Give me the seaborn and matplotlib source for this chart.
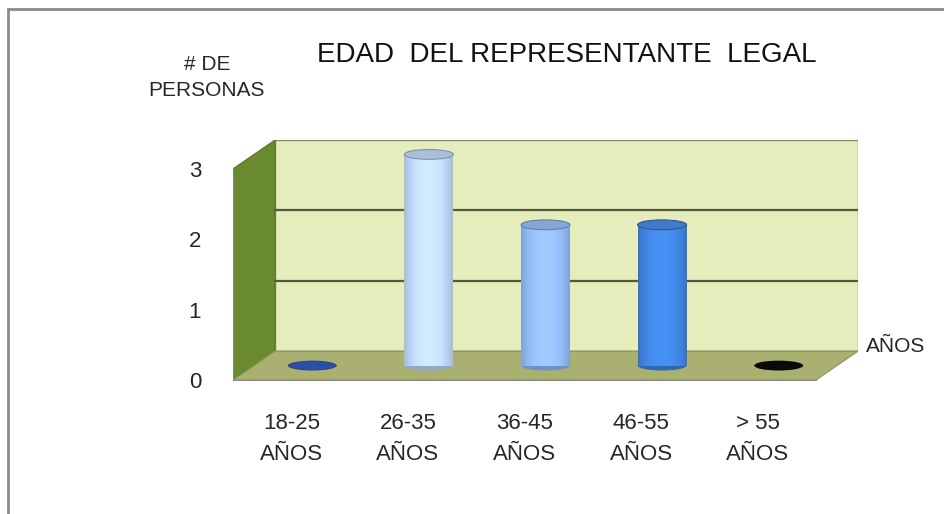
import numpy as np
import pandas as pd
import seaborn as sns
import matplotlib.pyplot as plt
from matplotlib.patches import Polygon, Ellipse, Rectangle
from matplotlib.transforms import Affine2D

# data
categories = ["18-25\nAÑOS", "26-35\nAÑOS", "36-45\nAÑOS", "46-55\nAÑOS", "> 55\nAÑOS"]
personas = [0, 3, 2, 2, 0]
bar_colors = ["#2c4fa6", "#b9d2f2", "#8db5ee", "#3d80dc", "#0a0a0a"]

df = pd.DataFrame({"edad": categories, "personas": personas})

sns.set_style("white")
plt.rcParams['font.family'] = ['Liberation Sans', 'DejaVu Sans']

W, H = 945, 514
fig = plt.figure(figsize=(W / 100, H / 100), dpi=100)

def fx(x):
    return x / W

def fy(y):
    return 1 - y / H

# outer frame
fig.patches.append(Rectangle((fx(8), fy(530)), 1.0, fy(9) - fy(530), transform=fig.transFigure,
                             fill=False, edgecolor="#8a8a8a", linewidth=2))

# 3d depth offset in data units
dx, dy = 0.36, 0.41
ax = fig.add_axes([fx(233), fy(380), fx(858) - fx(233), fy(140) - fy(380)])
ax.set_xlim(-0.5, 4.5 + dx)
ax.set_ylim(0, 3 + dy)
ax.patch.set_alpha(0)

# walls
back = Polygon([(-0.5 + dx, dy), (4.5 + dx, dy), (4.5 + dx, 3 + dy), (-0.5 + dx, 3 + dy)],
               closed=True, facecolor="#e5edbc", edgecolor="#7d8a60", lw=1, zorder=0)
left = Polygon([(-0.5, 0), (-0.5 + dx, dy), (-0.5 + dx, 3 + dy), (-0.5, 3)],
               closed=True, facecolor="#6a8a30", edgecolor="#5a7524", lw=0.8, zorder=0)
floor = Polygon([(-0.5, 0), (4.5, 0), (4.5 + dx, dy), (-0.5 + dx, dy)],
                closed=True, facecolor="#aab170", edgecolor="#8d9160", lw=0.8, zorder=0)
for p in (back, left, floor):
    ax.add_patch(p)
for g in [1, 2]:
    ax.plot([-0.5 + dx, 4.5 + dx], [g + dy, g + dy], color="#4f5b3c", lw=1.6, zorder=1)

# bars (cylinders) drawn by seaborn, then shifted to the middle depth
sns.barplot(data=df, x="edad", y="personas", hue="edad", palette=bar_colors,
            width=0.42, legend=False, ax=ax, zorder=3)
shift = Affine2D().translate(dx / 2, dy / 2) + ax.transData
eh = 0.14
for patch, col in zip(ax.patches[3:], bar_colors):
    patch.set_transform(shift)
    patch.set_edgecolor("none")
    x0, w, h = patch.get_x(), patch.get_width(), patch.get_height()
    rgb = np.array(plt.matplotlib.colors.to_rgb(col))
    dark = np.clip(rgb * 0.8, 0, 1)
    ax.add_patch(Ellipse((x0 + w / 2, 0), w, eh, transform=shift, facecolor=dark,
                         edgecolor="none", zorder=2.9))
    if h > 0:
        t = np.linspace(0, 1, 64)
        shade = 0.78 + 0.32 * np.sin(np.pi * (t * 0.9 + 0.05)) ** 0.6
        img = np.clip(rgb[None, None, :] * shade[None, :, None] + 0.06 * (shade[None, :, None] - 0.78), 0, 1)
        im = ax.imshow(img, extent=[x0, x0 + w, 0, h], transform=shift, aspect="auto",
                       interpolation="bilinear", zorder=3.1)
        im.set_clip_path(patch)
        top = np.clip(rgb * 0.85 + 0.05, 0, 1)
        ax.add_patch(Ellipse((x0 + w / 2, h), w, eh, transform=shift, facecolor=top,
                             edgecolor=np.clip(rgb * 0.7, 0, 1), lw=0.8, zorder=3.2))
    else:
        ax.add_patch(Ellipse((x0 + w / 2, 0), w * 0.95, eh * 0.85, transform=shift,
                             facecolor=col, edgecolor="none", zorder=3.2))

ax.set_xlim(-0.5, 4.5 + dx)
ax.set_ylim(0, 3 + dy)

# axes
for s in ["top", "right"]:
    ax.spines[s].set_visible(False)
ax.spines["left"].set_bounds(0, 3)
ax.spines["bottom"].set_bounds(-0.5, 4.5)
ax.spines["left"].set_color("#8a8a8a")
ax.spines["bottom"].set_color("#8a8a8a")
ax.set_yticks([0, 1, 2, 3])
ax.set_yticklabels(["0", "1", "2", "3"], fontsize=16)
ax.set_xticks(np.arange(-0.5, 5, 1.0))
ax.set_xticklabels([])
ax.set_xticks(range(len(categories)), minor=True)
ax.set_xticklabels(categories, minor=True, fontsize=16, linespacing=1.6)
ax.tick_params(axis="x", which="major", direction="out", length=6, color="#8a8a8a")
ax.tick_params(axis="x", which="minor", length=0, pad=24)
ax.tick_params(axis="y", direction="out", length=5, color="#8a8a8a", pad=18)
ax.set_xlabel("")
ax.set_ylabel("")

# texts
fig.text(fx(567), fy(55), "EDAD  DEL REPRESENTANTE  LEGAL", ha="center", va="center",
         fontsize=20, color="#111111")
fig.text(fx(207), fy(65), "# DE", ha="center", va="center", fontsize=15)
fig.text(fx(207), fy(91), "PERSONAS", ha="center", va="center", fontsize=15)
fig.text(fx(866), fy(346), "AÑOS", ha="left", va="center", fontsize=15)

plt.savefig("out.png", dpi=100)
